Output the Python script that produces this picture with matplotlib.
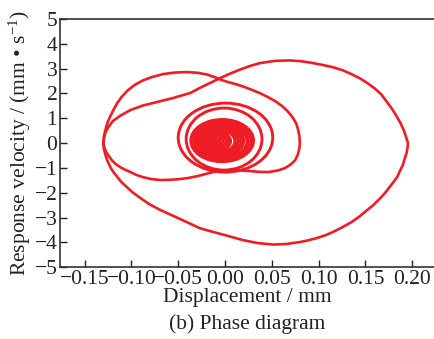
import matplotlib
matplotlib.use("Agg")
import matplotlib.pyplot as plt
from matplotlib.patches import Ellipse

plt.rcParams['font.family'] = ['Liberation Serif', 'DejaVu Serif']
plt.rcParams['mathtext.fontset'] = 'custom'
plt.rcParams['mathtext.rm'] = 'Liberation Serif'
plt.rcParams['mathtext.it'] = 'Liberation Serif:italic'

# outer orbit (displacement mm, velocity mm/s)
big_x = [-0.130, -0.1295, -0.128, -0.125, -0.120, -0.112, -0.101, -0.088, -0.073, -0.056,
         -0.037, -0.027, -0.016, -0.005, 0.005, 0.016, 0.027, 0.037, 0.053, 0.069,
         0.081, 0.093, 0.104, 0.115, 0.126, 0.135, 0.144, 0.152, 0.160, 0.167,
         0.173, 0.179, 0.184, 0.188, 0.191, 0.193, 0.1955, 0.195, 0.194, 0.192,
         0.190, 0.187, 0.184, 0.180, 0.176, 0.171, 0.165, 0.159, 0.152, 0.144,
         0.135, 0.125, 0.115, 0.107, 0.098, 0.089, 0.080, 0.065, 0.051, 0.035,
         0.019, 0.000, -0.014, -0.027, -0.048, -0.069, -0.081, -0.091, -0.099, -0.105,
         -0.111, -0.115, -0.119, -0.122, -0.126, -0.128, -0.1295, -0.130]
big_v = [0.00, 0.15, 0.40, 0.62, 0.88, 1.10, 1.33, 1.51, 1.65, 1.81,
         2.02, 2.22, 2.42, 2.62, 2.79, 2.96, 3.11, 3.22, 3.31, 3.33,
         3.30, 3.23, 3.15, 3.06, 2.93, 2.78, 2.61, 2.42, 2.20, 1.96,
         1.66, 1.35, 1.04, 0.77, 0.52, 0.30, 0.00, -0.20, -0.40, -0.63,
         -0.89, -1.12, -1.37, -1.57, -1.77, -2.01, -2.26, -2.48, -2.70, -2.95,
         -3.19, -3.40, -3.59, -3.72, -3.83, -3.92, -3.99, -4.07, -4.09, -4.03,
         -3.91, -3.71, -3.57, -3.43, -3.06, -2.70, -2.46, -2.20, -1.98, -1.77,
         -1.56, -1.37, -1.18, -1.01, -0.69, -0.45, -0.22, 0.00]

# second orbit with the upper lobe
mid_x = [-0.130, -0.1295, -0.128, -0.126, -0.123, -0.119, -0.115, -0.110, -0.104, -0.097,
         -0.088, -0.078, -0.066, -0.054, -0.041, -0.029, -0.019, -0.010, -0.005, 0.003,
         0.011, 0.020, 0.029, 0.038, 0.046, 0.054, 0.061, 0.067, 0.072, 0.076,
         0.078, 0.0795, 0.080, 0.0795, 0.078, 0.075, 0.070, 0.064, 0.056, 0.046,
         0.036, 0.027, 0.016, 0.005, -0.004, -0.013, -0.021, -0.029, -0.038, -0.048,
         -0.058, -0.069, -0.079, -0.088, -0.095, -0.101, -0.107, -0.112, -0.117, -0.121,
         -0.124, -0.127, -0.129, -0.130]
mid_v = [0.00, 0.25, 0.50, 0.78, 1.05, 1.35, 1.62, 1.88, 2.12, 2.33,
         2.52, 2.66, 2.78, 2.84, 2.86, 2.83, 2.76, 2.64, 2.56, 2.46,
         2.38, 2.27, 2.14, 2.00, 1.85, 1.68, 1.49, 1.28, 1.05, 0.80,
         0.56, 0.28, 0.00, -0.20, -0.45, -0.69, -0.87, -1.01, -1.11, -1.17,
         -1.16, -1.13, -1.10, -1.09, -1.12, -1.17, -1.25, -1.33, -1.40, -1.45,
         -1.48, -1.49, -1.45, -1.37, -1.28, -1.17, -1.07, -0.97, -0.84, -0.69,
         -0.53, -0.36, -0.18, 0.00]

# settling loops (centre, width, height), outermost first
loop_cx = [0.0005, -0.001, -0.003, -0.004, -0.002, -0.004, -0.003, -0.002, -0.004, -0.003,
           -0.003, -0.004, -0.003, -0.004, -0.003, -0.004, -0.004, -0.004, -0.003, -0.004]
loop_cy = [0.22, 0.16, 0.10, 0.08, 0.10, 0.07, 0.09, 0.08, 0.10, 0.08,
           0.09, 0.08, 0.10, 0.09, 0.08, 0.10, 0.08, 0.09, 0.08, 0.08]
loop_w = [0.101, 0.081, 0.067, 0.064, 0.061, 0.058, 0.054, 0.051, 0.048, 0.044,
          0.041, 0.037, 0.034, 0.030, 0.027, 0.016, 0.020, 0.012, 0.008, 0.004]
loop_h = [2.78, 2.50, 1.70, 1.62, 1.55, 1.47, 1.40, 1.32, 1.25, 1.17,
          1.10, 1.02, 0.95, 0.87, 0.80, 0.78, 0.62, 0.50, 0.34, 0.18]

x_ticks = [-0.15, -0.10, -0.05, 0.00, 0.05, 0.10, 0.15, 0.20]
x_ticklabels = ['\u22120.15', '\u22120.10', '\u22120.05', '0.00', '0.05', '0.10', '0.15', '0.20']
y_ticks = list(range(-5, 6))
y_ticklabels = [('\u2212%d' % -t) if t < 0 else str(t) for t in y_ticks]

red = '#ee1c25'
ink = '#222222'

fig = plt.figure(figsize=(4.35, 3.39), dpi=100)
ax = fig.add_axes([0.138, 0.212, 0.862, 0.732])

ax.plot(big_x, big_v, color=red, lw=1.9, solid_joinstyle='round')
ax.plot(mid_x, mid_v, color=red, lw=1.9, solid_joinstyle='round')
for cx, cy, w, h in zip(loop_cx, loop_cy, loop_w, loop_h):
    ax.add_patch(Ellipse((cx, cy), w, h, fill=False, edgecolor=red, lw=2.1))

ax.set_xlim(-0.1763, 0.2244)
ax.set_ylim(-5, 5)
ax.set_xticks(x_ticks)
ax.set_xticklabels(x_ticklabels)
ax.set_yticks(y_ticks)
ax.set_yticklabels(y_ticklabels)
ax.tick_params(direction='in', length=5, width=1, labelsize=15.5, pad=2, colors=ink)
ax.spines['right'].set_visible(False)
for s in ['left', 'bottom', 'top']:
    ax.spines[s].set_linewidth(1.2)
    ax.spines[s].set_color('#333333')

ax.set_xlabel('Displacement / mm', fontsize=15.5, labelpad=-1, color=ink)
ax.set_ylabel(r'Response velocity / (mm • s$^{-1}$)', fontsize=15.5, labelpad=1, color=ink)
fig.text(0.569, 0.045, '(b) Phase diagram', ha='center', va='center', fontsize=15.5, color=ink)

fig.savefig('out.png', dpi=100)
